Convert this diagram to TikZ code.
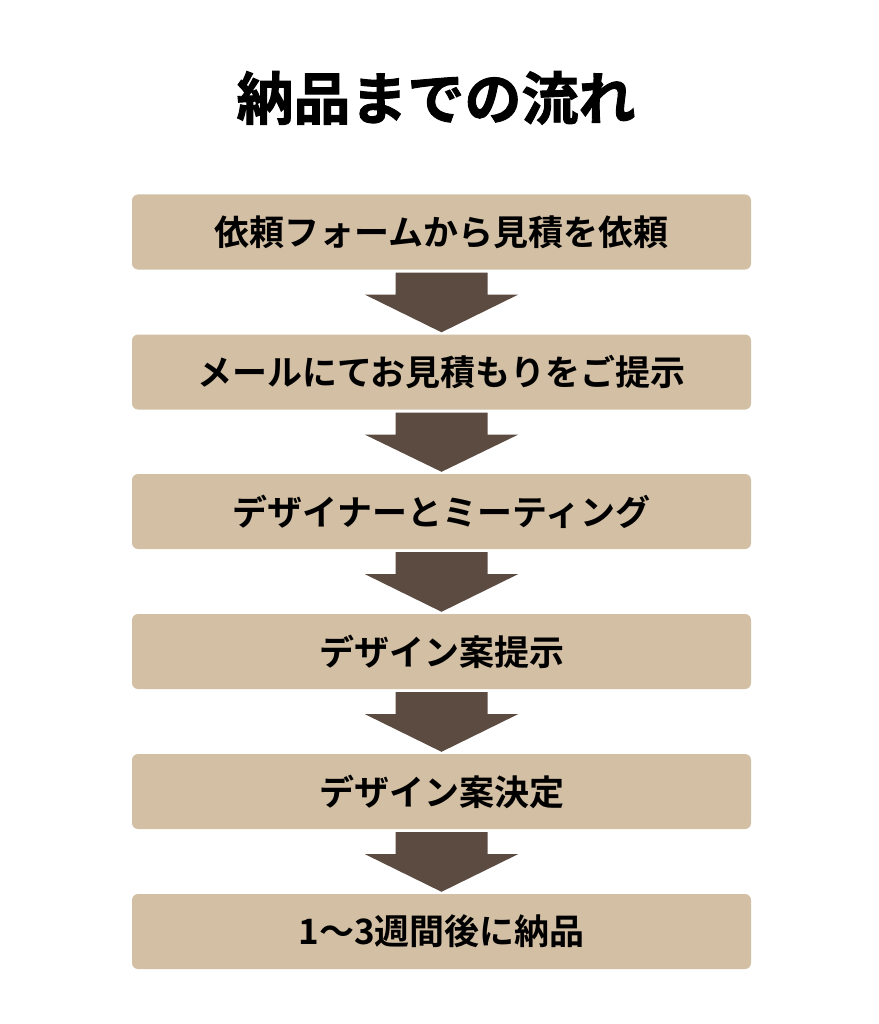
\documentclass[tikz,border=0pt]{standalone}
\usepackage{fontspec}
\usetikzlibrary{calc}
\newfontfamily\cjk{Noto Sans CJK JP}[BoldFont={Noto Sans CJK JP Bold}]
\newfontfamily\cjkheavy{Noto Sans CJK JP Bold}[FakeBold=1.6]
\definecolor{boxfill}{RGB}{210,191,164}
\definecolor{arrowfill}{RGB}{92,75,64}
\begin{document}
\begin{tikzpicture}[x=1pt,y=-1pt,
  stepbox/.style={fill=boxfill, draw=none, rounded corners=6pt, minimum width=619pt, minimum height=75pt, inner sep=0pt, font=\cjk\bfseries\fontsize{35}{42}\selectfont, text=black},
  titlefont/.style={font=\cjkheavy\fontsize{57}{68}\selectfont, text=black, inner sep=0pt}]
\useasboundingbox (0,0) rectangle (878,1024);
\node[titlefont] (title) at (436,98) {納品までの流れ};
\node[stepbox] (s1) at (441.5,232) {依頼フォームから見積を依頼};
\node[stepbox] (s2) at (441.5,372) {メールにてお見積もりをご提示};
\node[stepbox] (s3) at (441.5,511.5) {デザイナーとミーティング};
\node[stepbox] (s4) at (441.5,651.5) {デザイン案提示};
\node[stepbox] (s5) at (441.5,791.5) {デザイン案決定};
\node[stepbox] (s6) at (441.5,931.5) {1～3週間後に納品};
\foreach \a/\b in {s1/s2,s2/s3,s3/s4,s4/s5,s5/s6}{
  \path (\a.south) ++(0,3) coordinate (\a-top);
  \path (\b.north) ++(0,-2) coordinate (\a-tip);
  \fill[arrowfill] (\a-top) ++(-46,0) -- ++(92,0) -- ++(0,22) -- ++(30.5,0) -- (\a-tip) -- ($(\a-top)+(-76.5,22)$) -- ++(30.5,0) -- cycle;
}
\end{tikzpicture}
\end{document}
